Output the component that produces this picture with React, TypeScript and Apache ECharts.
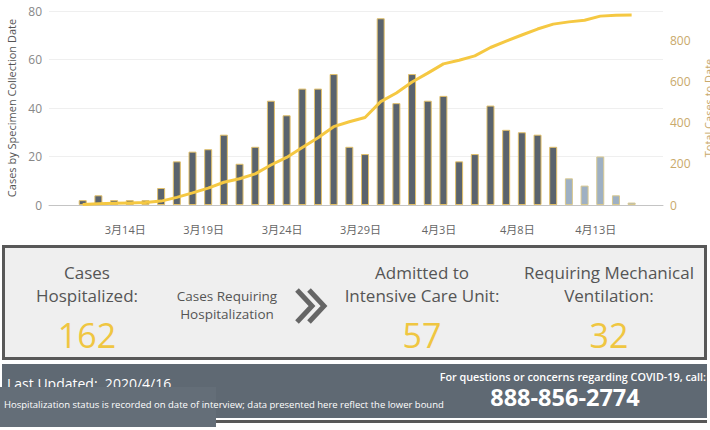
import React, { useEffect, useRef } from "react";
import * as echarts from "echarts";

const dates = [
  "3/11", "3/12", "3/13", "3/14", "3/15", "3/16", "3/17", "3/18", "3/19", "3/20",
  "3/21", "3/22", "3/23", "3/24", "3/25", "3/26", "3/27", "3/28", "3/29", "3/30",
  "3/31", "4/1", "4/2", "4/3", "4/4", "4/5", "4/6", "4/7", "4/8", "4/9",
  "4/10", "4/11", "4/12", "4/13", "4/14", "4/15",
];
const newCases = [
  2, 4, 2, 2, 2, 7, 18, 22, 23, 29,
  17, 24, 43, 37, 48, 48, 54, 24, 21, 77,
  42, 54, 43, 45, 18, 21, 41, 31, 30, 29,
  24, 11, 8, 20, 4, 1,
];
const totalCases = [
  2, 6, 8, 10, 12, 19, 37, 59, 82, 111,
  128, 152, 195, 232, 280, 328, 382, 406, 427, 504,
  546, 600, 643, 688, 706, 727, 768, 799, 829, 858,
  882, 893, 901, 921, 925, 926,
];
const provisionalDates = ["4/11", "4/12", "4/13", "4/14", "4/15"];
const xTickDates = ["3/14", "3/19", "3/24", "3/29", "4/3", "4/8", "4/13"];
const leftAxisMax = 80;
const leftAxisStep = 20;
const rightAxisMax = 946;
const rightAxisStep = 200;

const stats = [
  { line1: "Cases", line2: "Hospitalized:", value: "162" },
  { line1: "Admitted to", line2: "Intensive Care Unit:", value: "57" },
  { line1: "Requiring Mechanical", line2: "Ventilation:", value: "32" },
];

// day offset relative to 3/14
function dayIndex(d: string): number {
  const [m, day] = d.split("/").map(Number);
  return m === 3 ? day - 14 : 31 - 14 + day;
}
function dateLabel(v: number): string {
  const d = dates.concat(xTickDates).find((x) => dayIndex(x) === Math.round(v));
  if (!d) return "";
  const [m, day] = d.split("/");
  return `${m}月${day}日`;
}

const FONT = "'Open Sans', 'Noto Sans CJK SC', sans-serif";

export default function App() {
  const ref = useRef<HTMLDivElement>(null);
  useEffect(() => {
    if (!ref.current) return;
    const chart = echarts.init(ref.current, null, { renderer: "svg" });

    const barData = dates.map((d, i) => {
      const prov = provisionalDates.includes(d);
      return {
        value: [dayIndex(d), newCases[i]],
        itemStyle: prov
          ? { color: "#9eb0c3", borderColor: "#d9c98f", borderWidth: 1 }
          : { color: "#5a636d", borderColor: "#e2c06a", borderWidth: 1 },
      };
    });
    const lineData = dates.map((d, i) => [dayIndex(d), totalCases[i]]);

    const s0 = stats[0], s1 = stats[1], s2 = stats[2];
    const statText = (x: number, s: { line1: string; line2: string; value: string }) => [
      { type: "text", x, y: 272, style: { text: s.line1, font: `17px ${FONT}`, fill: "#555", align: "center", verticalAlign: "middle" } },
      { type: "text", x, y: 295, style: { text: s.line2, font: `17px ${FONT}`, fill: "#555", align: "center", verticalAlign: "middle" } },
      { type: "text", x, y: 335, style: { text: s.value, font: `34px ${FONT}`, fill: "#efc641", align: "center", verticalAlign: "middle" } },
    ];

    chart.setOption({
      animation: false,
      backgroundColor: "#ffffff",
      textStyle: { fontFamily: FONT },
      grid: { left: 49, right: 47, top: 11, bottom: 225, containLabel: false, outerBoundsMode: "none" },
      xAxis: {
        type: "value",
        min: -5.15,
        max: 34.0,
        axisLine: { show: true, lineStyle: { color: "#c4c4c4", width: 1 } },
        axisTick: { show: false },
        splitLine: { show: false },
        axisLabel: {
          customValues: xTickDates.map(dayIndex),
          formatter: (v: number) => dateLabel(v),
          color: "#666",
          fontSize: 11,
          margin: 19,
          padding: [0, 9, 0, 0],
        },
      },
      yAxis: [
        {
          type: "value",
          min: 0,
          max: leftAxisMax,
          interval: leftAxisStep,
          name: "Cases by Specimen Collection Date",
          nameLocation: "middle",
          nameRotate: 90,
          nameGap: 31,
          nameTextStyle: { color: "#555", fontSize: 11 },
          axisLine: { show: false },
          axisTick: { show: false },
          axisLabel: { color: "#888", fontSize: 12, margin: 7 },
          splitLine: { lineStyle: { color: "#efefef" } },
        },
        {
          type: "value",
          min: 0,
          max: rightAxisMax,
          interval: rightAxisStep,
          position: "right",
          name: "Total Cases to Date",
          nameLocation: "middle",
          nameRotate: 90,
          nameGap: 40,
          nameTextStyle: { color: "#c9a96b", fontSize: 11 },
          axisLine: { show: false },
          axisTick: { show: false },
          axisLabel: { color: "#c9a96b", fontSize: 12, margin: 7, showMaxLabel: false },
          splitLine: { show: false },
        },
      ],
      series: [
        {
          type: "bar",
          yAxisIndex: 0,
          barWidth: 8,
          data: barData,
          z: 2,
        },
        {
          type: "line",
          yAxisIndex: 1,
          data: lineData,
          symbol: "none",
          lineStyle: { color: "#f5c842", width: 3 },
          z: 3,
        },
      ],
      graphic: [
        // stats panel
        { type: "rect", shape: { x: 3.5, y: 246.5, width: 702, height: 112 }, style: { fill: "#efefef", stroke: "#585858", lineWidth: 3 } },
        ...statText(87, s0),
        { type: "text", x: 227, y: 296, style: { text: "Cases Requiring", font: `13.5px ${FONT}`, fill: "#555", align: "center", verticalAlign: "middle" } },
        { type: "text", x: 227, y: 314, style: { text: "Hospitalization", font: `13.5px ${FONT}`, fill: "#555", align: "center", verticalAlign: "middle" } },
        { type: "polyline", shape: { points: [[297, 290], [312, 306], [297, 322]] }, style: { stroke: "#666", lineWidth: 5, fill: null } },
        { type: "polyline", shape: { points: [[309, 290], [324, 306], [309, 322]] }, style: { stroke: "#666", lineWidth: 5, fill: null } },
        ...statText(422, s1),
        ...statText(609, s2),
        // footer panel
        { type: "rect", shape: { x: 2, y: 364, width: 705, height: 54 }, style: { fill: "#5f6973" } },
        { type: "rect", shape: { x: 2, y: 420, width: 705, height: 3 }, style: { fill: "#585858" } },
        { type: "text", x: 7, y: 383, style: { text: "Last Updated:  2020/4/16", font: `14px ${FONT}`, fill: "#ffffff", align: "left", verticalAlign: "middle" } },
        { type: "rect", shape: { x: 0, y: 387, width: 216, height: 40 }, style: { fill: "#646e78" } },
        { type: "text", x: 4, y: 404, style: { text: "Hospitalization status is recorded on date of interview; data presented here reflect the lower bound", font: `9.5px ${FONT}`, fill: "#ffffff", align: "left", verticalAlign: "middle" } },
        { type: "text", x: 706, y: 376, style: { text: "For questions or concerns regarding COVID-19, call:", font: `600 10.8px ${FONT}`, fill: "#ffffff", align: "right", verticalAlign: "middle" } },
        { type: "text", x: 565, y: 397, style: { text: "888-856-2774", font: `bold 23.5px ${FONT}`, fill: "#ffffff", align: "center", verticalAlign: "middle" } },
      ],
    });
    return () => chart.dispose();
  }, []);
  return <div ref={ref} style={{ position: "fixed", left: 0, top: 0, width: 710, height: 430 }} />;
}
